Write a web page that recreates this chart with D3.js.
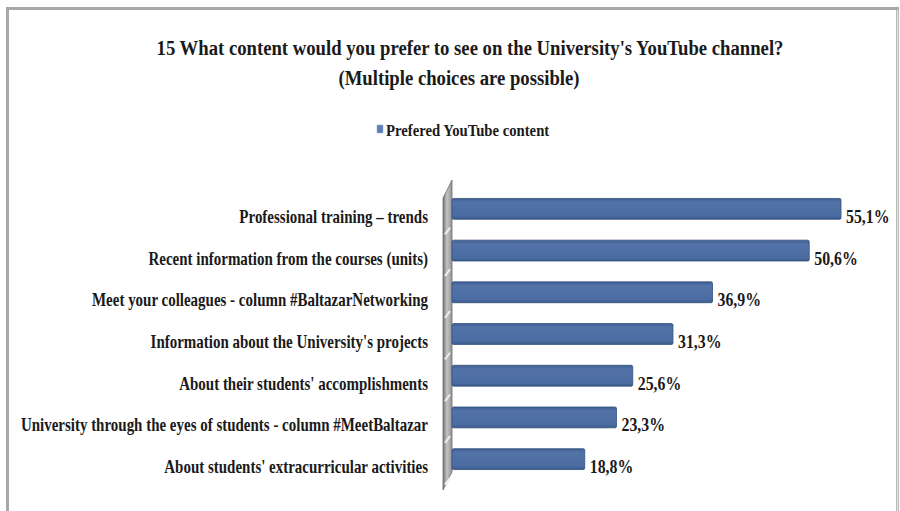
<!DOCTYPE html>
<html>
<head>
<meta charset="utf-8">
<script src="https://cdn.jsdelivr.net/npm/d3@7"></script>
<style>
  html, body { margin: 0; padding: 0; background: #ffffff; }
  svg { display: block; }
  svg text { font-family: "Liberation Serif", "Times New Roman", "DejaVu Serif", serif; font-weight: 700; fill: #1a1a1a; }
</style>
</head>
<body>
<svg id="chart" width="900" height="511"></svg>
<script>
// Survey question 15 – preferred content on the University's YouTube channel
const categories = [
  "Professional training \u2013 trends",
  "Recent information from the courses (units)",
  "Meet your colleagues - column #BaltazarNetworking",
  "Information about the University's projects",
  "About their students' accomplishments",
  "University through the eyes of students - column #MeetBaltazar",
  "About students' extracurricular activities"
];
const values = [55.1, 50.6, 36.9, 31.3, 25.6, 23.3, 18.8];
const valueLabels = ["55,1%", "50,6%", "36,9%", "31,3%", "25,6%", "23,3%", "18,8%"];
const titleLines = [
  "15 What content would you prefer to see on the University's YouTube channel?",
  "(Multiple choices are possible)"
];
const seriesName = "Prefered YouTube content";

const svg = d3.select("#chart");
const W = 900, H = 511;
const serif = "'Liberation Serif', 'Times New Roman', 'DejaVu Serif', serif";
const barEdge = "#33517c";

// outer frame
svg.append("path")
  .attr("d", `M7.5,${H} V8.5 H897.5 V${H}`)
  .attr("fill", "none").attr("stroke", "#a8a8a8").attr("stroke-width", 3);
svg.append("line").attr("x1", 897.5).attr("x2", 897.5).attr("y1", 10).attr("y2", H)
  .attr("stroke", "#e6e6e6").attr("stroke-width", 1.5);

// title (condensed bold serif)
const titleX = [470, 459];
titleLines.forEach((t, i) => {
  svg.append("text")
    .attr("transform", `translate(${titleX[i]},${55 + i * 30}) scale(0.85,1)`)
    .attr("text-anchor", "middle")
    .style("font-family", serif)
    .style("font-size", "22px")
    .text(t);
});

// legend
const legend = svg.append("g").attr("transform", "translate(377,131)");
legend.append("rect").attr("x", 0).attr("y", -6).attr("width", 6).attr("height", 8)
  .attr("fill", "#5b7db3").attr("stroke", "#9db0d0").attr("stroke-width", 0.6);
legend.append("text")
  .attr("transform", "translate(9,5) scale(0.865,1)")
  .style("font-family", serif)
  .style("font-size", "17px")
  .text(seriesName);

// scales
const x0 = 452;
const x = d3.scaleLinear().domain([0, 60]).range([x0, x0 + 423.6]);
const y = d3.scaleBand().domain(categories).range([188, 480])
  .paddingInner(0.5).paddingOuter(0.25);

// 3D side wall of the category axis
const defs = svg.append("defs");
const wallGrad = defs.append("linearGradient").attr("id", "wallGrad")
  .attr("x1", "0").attr("x2", "1").attr("y1", "0").attr("y2", "0");
wallGrad.append("stop").attr("offset", "0%").attr("stop-color", "#757575");
wallGrad.append("stop").attr("offset", "45%").attr("stop-color", "#c4c4c4");
wallGrad.append("stop").attr("offset", "100%").attr("stop-color", "#939393");
const wall = svg.append("g");
wall.append("path")
  .attr("d", `M443,198 L${x0},180 L${x0},472 L443,490 Z`)
  .attr("fill", "url(#wallGrad)").attr("stroke", "#6d6d6d").attr("stroke-width", 0.8);
// light hatch marks on the wall between bars
wall.selectAll("line.hatch")
  .data(categories)
  .join("line")
  .attr("class", "hatch")
  .attr("x1", 445).attr("x2", 450)
  .attr("y1", d => y(d) + y.bandwidth() + y.step() * 0.36)
  .attr("y2", d => y(d) + y.bandwidth() + y.step() * 0.2)
  .attr("stroke", "#eeeeee").attr("stroke-width", 2);

// bars
const gradBar = defs.append("linearGradient").attr("id", "barGrad")
  .attr("x1", "0").attr("x2", "0").attr("y1", "0").attr("y2", "1");
gradBar.append("stop").attr("offset", "0%").attr("stop-color", "#3d5d93");
gradBar.append("stop").attr("offset", "18%").attr("stop-color", "#5272a8");
gradBar.append("stop").attr("offset", "85%").attr("stop-color", "#4b6ca2");
gradBar.append("stop").attr("offset", "100%").attr("stop-color", "#385887");

svg.append("g").selectAll("rect.bar")
  .data(categories)
  .join("rect")
  .attr("class", "bar")
  .attr("x", x(0))
  .attr("y", d => y(d))
  .attr("width", (d, i) => x(values[i]) - x(0))
  .attr("height", y.bandwidth())
  .attr("rx", 1.5)
  .attr("fill", "url(#barGrad)")
  .attr("stroke", barEdge).attr("stroke-width", 0.8);

// value labels
svg.append("g").selectAll("text.val")
  .data(categories)
  .join("text")
  .attr("class", "val")
  .attr("transform", (d, i) =>
    `translate(${x(values[i]) + 5},${y(d) + y.bandwidth() / 2 + 14}) scale(0.88,1)`)
  .style("font-family", serif)
  .style("font-size", "18px")
  .text((d, i) => valueLabels[i]);

// category axis
const axis = svg.append("g")
  .attr("transform", "translate(443,0)")
  .call(d3.axisLeft(y).tickSize(0).tickPadding(15));
axis.select(".domain").remove();
axis.selectAll(".tick text")
  .attr("x", null).attr("dy", null)
  .attr("transform", "translate(-15,14) scale(0.832,1)")
  .attr("text-anchor", "end")
  .style("font-family", serif)
  .style("font-weight", "700")
  .style("font-size", "18px")
  .attr("fill", "#1a1a1a");
</script>
</body>
</html>
